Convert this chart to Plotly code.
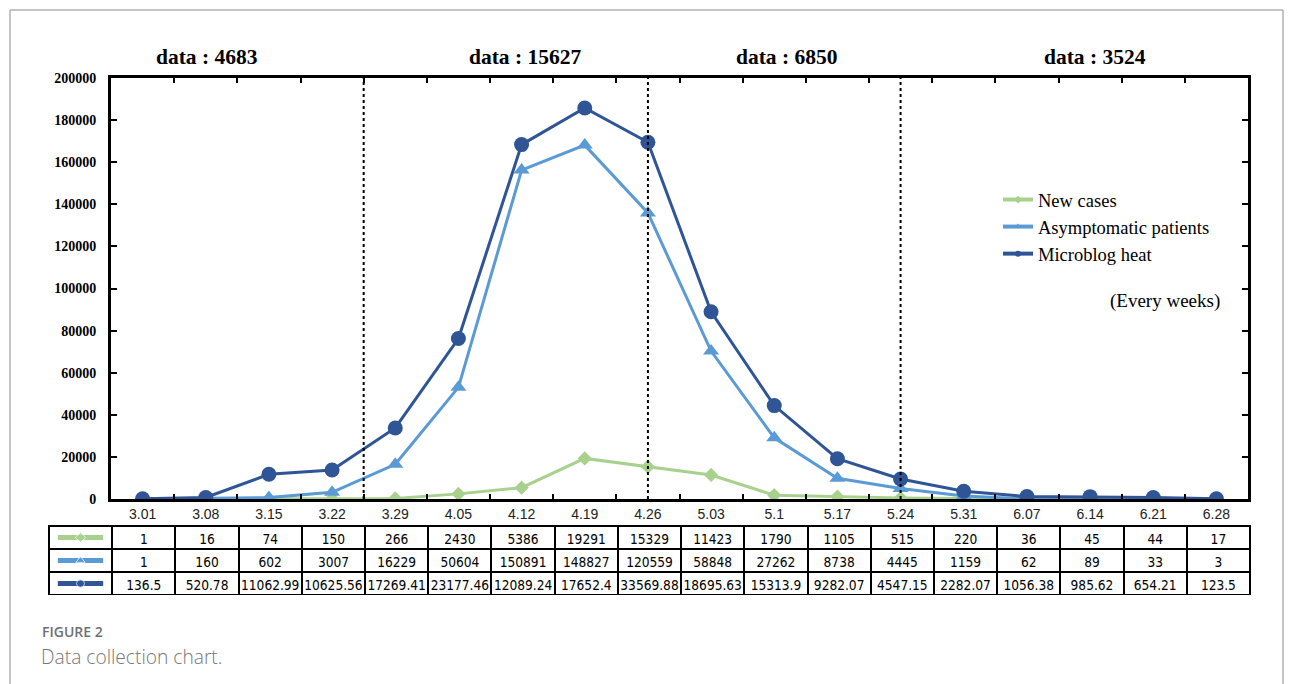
import numpy as np
import plotly.graph_objects as go

weeks = ["3.01", "3.08", "3.15", "3.22", "3.29", "4.05", "4.12", "4.19", "4.26",
         "5.03", "5.1", "5.17", "5.24", "5.31", "6.07", "6.14", "6.21", "6.28"]
new_cases = [1, 16, 74, 150, 266, 2430, 5386, 19291, 15329, 11423, 1790, 1105, 515, 220, 36, 45, 44, 17]
asymptomatic = [1, 160, 602, 3007, 16229, 50604, 150891, 148827, 120559, 58848, 27262, 8738, 4445,
                1159, 62, 89, 33, 3]
microblog = [136.5, 520.78, 11062.99, 10625.56, 17269.41, 23177.46, 12089.24, 17652.4, 33569.88,
             18695.63, 15313.9, 9282.07, 4547.15, 2282.07, 1056.38, 985.62, 654.21, 123.5]
series_names = ["New cases", "Asymptomatic patients", "Microblog heat"]
stage_labels = ["data : 4683", "data : 15627", "data : 6850", "data : 3524"]
stage_dividers = [3.5, 8, 12]

C_GREEN = "#A9D18E"
C_LIGHT = "#5B9BD5"
C_DARK = "#2F5597"
colors = [C_GREEN, C_LIGHT, C_DARK]
symbols = ["diamond", "triangle-up", "circle"]
sizes = [11, 14, 15]

# stacked line chart
series = [np.array(new_cases, float), np.array(asymptomatic, float), np.array(microblog, float)]
stacked = np.cumsum(np.vstack(series), axis=0)

# page offset (body margin) and figure size
OFF = 8
FW, FH = 1293 - OFF, 684 - OFF
# paper spans page px PL..PR horizontally, PT..PB vertically
PL, PR, PT, PB = 49, 1250, 78, 595
W, H = PR - PL, PB - PT
def px(x):
    return (x - PL) / W
def py(y):
    return (PB - y) / H

TABLE_TOP = 526
ROW_H = 23

fig = go.Figure()
for i in range(3):
    fig.add_trace(go.Scatter(x=weeks, y=stacked[i], name=series_names[i], mode="lines+markers",
                             line=dict(color=colors[i], width=3),
                             marker=dict(symbol=symbols[i], size=sizes[i], color=colors[i]),
                             showlegend=False))
# legend entries (small markers, like the reference legend)
for i in range(3):
    fig.add_trace(go.Scatter(x=[None], y=[None], xaxis="x2", yaxis="y2", name=series_names[i],
                             mode="lines+markers", line=dict(color=colors[i], width=4),
                             marker=dict(symbol=symbols[i], size=6, color=colors[i]),
                             legendgroup=str(i), showlegend=True))
# legend keys in the first table column
for i in range(3):
    row = 2.5 - i
    fig.add_trace(go.Scatter(x=[0.14, 0.5, 0.86], y=[row] * 3, xaxis="x2", yaxis="y2",
                             mode="lines+markers", line=dict(color=colors[i], width=5),
                             marker=dict(symbol=symbols[i], size=[0, 8, 0], color=colors[i]),
                             showlegend=False, hoverinfo="skip"))

def fmt(v):
    return str(v)

num_font = "DejaVu Sans Condensed, Liberation Sans Narrow, Liberation Sans, Arial"
ncols = len(weeks) + 1
clear = "rgba(0,0,0,0)"
fig.add_trace(go.Table(
    domain=dict(x=[0, 1], y=[0, py(TABLE_TOP)]),
    columnwidth=[1] * ncols,
    header=dict(values=[""] + [fmt(v) for v in new_cases],
                height=ROW_H, align="center",
                line=dict(color="black", width=2),
                fill=dict(color=clear),
                font=dict(family=num_font, size=13.6, color="black")),
    cells=dict(values=[["", ""]] + [[fmt(a), fmt(m)] for a, m in zip(asymptomatic, microblog)],
               height=ROW_H, align="center",
               line=dict(color="black", width=2),
               fill=dict(color=clear),
               font=dict(family=num_font, size=13.6, color="black")),
))

shapes = []
for d in stage_dividers:
    shapes.append(dict(type="line", xref="x", yref="y domain", x0=d, x1=d, y0=0, y1=1.01,
                       line=dict(color="black", width=2, dash="dot")))
# outer figure frame
shapes.append(dict(type="rect", xref="paper", yref="paper", x0=px(10), x1=px(1283),
                   y0=py(720), y1=py(10), line=dict(color="#8a8a8a", width=1)))

annotations = []
stage_x = [207, 525, 787, 1095]
for t, xx in zip(stage_labels, stage_x):
    annotations.append(dict(text="<b>" + t + "</b>", x=px(xx), y=py(57), xref="paper", yref="paper",
                            showarrow=False, xanchor="center", yanchor="middle",
                            font=dict(family="Liberation Serif, Times New Roman, serif", size=21.5, color="black")))
annotations.append(dict(text="(Every weeks)", x=px(1222), y=py(301), xref="paper", yref="paper",
                        showarrow=False, xanchor="right", yanchor="middle",
                        font=dict(family="Liberation Serif, Times New Roman, serif", size=19, color="black")))
annotations.append(dict(text="FIGURE 2", x=px(40), y=py(631), xref="paper", yref="paper",
                        showarrow=False, xanchor="left", yanchor="middle",
                        font=dict(family="Open Sans, Noto Sans, sans-serif", size=14, color="#707070",
                                  weight=600)))
annotations.append(dict(text="Data collection chart.", x=px(39), y=py(656), xref="paper", yref="paper",
                        showarrow=False, xanchor="left", yanchor="middle",
                        font=dict(family="Open Sans, Noto Sans, sans-serif", size=19.2, color="#777777",
                                  weight=300)))

fig.update_layout(
    width=FW, height=FH,
    margin=dict(l=PL - OFF, r=FW - (PR - OFF), t=PT - OFF, b=FH - (PB - OFF)),
    paper_bgcolor="white", plot_bgcolor="white",
    showlegend=True,
    legend=dict(x=px(998), y=py(181), xanchor="left", yanchor="top",
                bgcolor="rgba(0,0,0,0)", tracegroupgap=0,
                font=dict(family="Liberation Serif, Times New Roman, serif", size=18.5, color="black")),
    xaxis=dict(type="category", domain=[px(111), px(1248)], range=[-0.5, len(weeks) - 0.5],
               showline=True, linewidth=3, linecolor="black", mirror="ticks",
               ticks="inside", tickson="boundaries", ticklen=5, tickwidth=2, tickcolor="black",
               showgrid=False, zeroline=False,
               tickfont=dict(family="Liberation Sans, Arial, sans-serif", size=14, color="#222")),
    yaxis=dict(domain=[py(499), 1], range=[0, 200000], dtick=20000, tickformat="d",
               showline=True, linewidth=3, linecolor="black", mirror="ticks",
               ticks="inside", ticklen=6, tickwidth=2, tickcolor="black",
               showgrid=False, zeroline=False, ticklabelstandoff=9,
               tickfont=dict(family="Liberation Serif, Times New Roman, serif", size=14,
                             color="black", weight="bold")),
    xaxis2=dict(domain=[0, px(112)], range=[0, 1], visible=False, fixedrange=True),
    yaxis2=dict(domain=[py(TABLE_TOP + 3 * ROW_H), py(TABLE_TOP)], range=[0, 3], visible=False,
                fixedrange=True),
    shapes=shapes,
    annotations=annotations,
)

fig.write_html("out.html")
